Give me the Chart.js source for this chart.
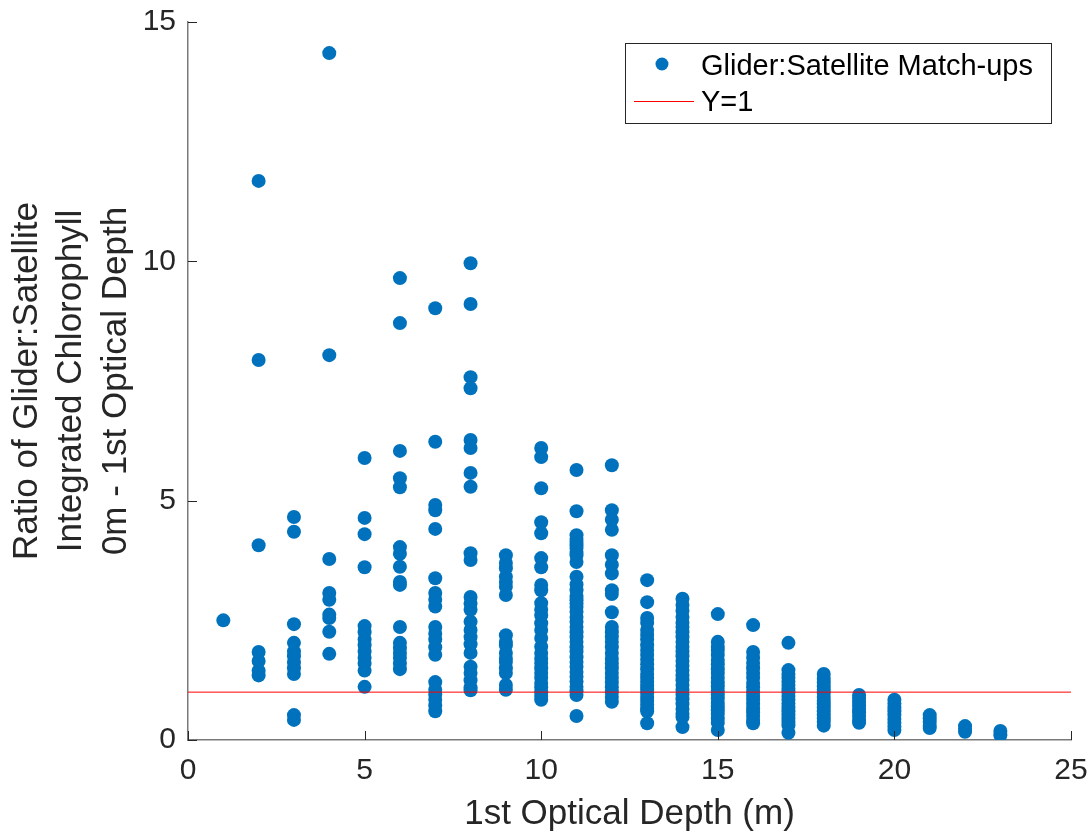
<!DOCTYPE html>
<html>
<head>
<meta charset="utf-8">
<script src="https://cdn.jsdelivr.net/npm/chart.js@4.4.1/dist/chart.umd.min.js"></script>
<style>
  html, body { margin: 0; padding: 0; background: #ffffff; }
  #wrap { width: 1092px; height: 835px; }
</style>
</head>
<body>
<div id="wrap"><canvas id="c" width="1092" height="835"></canvas></div>
<script>
// ---- Data: ratio values read at each 1st optical depth (m) ----
const depths = [1, 2, 3, 4, 5, 6, 7, 8, 9, 10, 11, 12, 13, 14, 15, 16, 17, 18, 19, 20, 21, 22, 23];
const r01 = [2.5];
const r02 = [11.68, 7.94, 4.07, 1.84, 1.65, 1.45, 1.35];
const r03 = [4.66, 4.35, 2.42, 2.03, 1.85, 1.75, 1.62, 1.5, 1.38, 0.52, 0.42];
const r04 = [14.35, 8.04, 3.78, 3.07, 2.93, 2.62, 2.55, 2.26, 1.80];
const r05 = [5.89, 4.64, 4.30, 3.61, 2.38, 2.25, 2.1, 1.98, 1.85, 1.72, 1.6, 1.45, 1.11];
const r06 = [9.65, 8.71, 6.04, 5.47, 5.28, 4.03, 3.89, 3.62, 3.30, 3.24, 2.36, 2.03, 1.92, 1.82, 1.72, 1.6, 1.48];
const r07 = [9.02, 6.23, 4.91, 4.80, 4.41, 3.38, 3.07, 2.93, 2.79, 2.36, 2.22, 2.1, 1.94, 1.78, 1.21, 1.05, 0.95, 0.84, 0.72, 0.6];
const r08 = [9.96, 9.11, 7.58, 7.35, 6.27, 6.10, 5.58, 5.29, 3.90, 3.76, 2.99, 2.85, 2.72, 2.47, 2.3, 2.15, 2.0, 1.82, 1.53, 1.4, 1.25, 1.1, 1.04];
const r09 = [3.86, 3.7, 3.59, 3.41, 3.3, 3.20, 3.03, 2.19, 2.05, 1.98, 1.82, 1.7, 1.63, 1.5, 1.40, 1.15, 1.05];
const r10 = [6.10, 5.91, 5.26, 4.55, 4.32, 3.80, 3.61, 3.24, 3.13, 2.86, 2.72, 2.6, 2.44, 2.30, 2.13, 1.95, 1.82, 1.7, 1.61, 1.5, 1.40, 1.3, 1.19, 1.1, 1.0, 0.92, 0.84];
const r11 = [5.64, 4.78, 4.28, 4.2, 4.14, 4.07, 4.01, 3.93, 3.86, 3.72, 3.41, 3.25, 3.13, 3.0, 2.92, 2.85, 2.78, 2.68, 2.57, 2.47, 2.36, 2.25, 2.15, 2.05, 1.94, 1.85, 1.73, 1.63, 1.53, 1.42, 1.32, 1.22, 1.11, 1.02, 0.94, 0.50];
const r12 = [5.74, 4.80, 4.60, 4.39, 3.86, 3.66, 3.48, 3.13, 3.05, 2.67, 2.36, 2.25, 2.15, 2.05, 1.94, 1.82, 1.7, 1.6, 1.5, 1.4, 1.3, 1.2, 1.1, 1.0, 0.9, 0.8];
const r13 = [3.34, 2.88, 2.55, 2.45, 2.3, 2.2, 2.1, 1.98, 1.88, 1.78, 1.68, 1.58, 1.48, 1.38, 1.3, 1.22, 1.14, 1.06, 0.98, 0.9, 0.82, 0.74, 0.66, 0.6, 0.35];
const r14 = [2.95, 2.82, 2.7, 2.57, 2.45, 2.36, 2.25, 2.15, 2.05, 1.95, 1.85, 1.75, 1.65, 1.55, 1.45, 1.35, 1.25, 1.15, 1.05, 0.95, 0.85, 0.75, 0.65, 0.55, 0.48, 0.27];
const r15 = [2.63, 2.05, 1.95, 1.88, 1.78, 1.67, 1.58, 1.48, 1.4, 1.3, 1.2, 1.12, 1.03, 0.95, 0.87, 0.78, 0.7, 0.62, 0.55, 0.45, 0.36, 0.21];
const r16 = [2.40, 1.84, 1.72, 1.61, 1.5, 1.40, 1.3, 1.19, 1.1, 1.0, 0.92, 0.84, 0.75, 0.66, 0.58, 0.5, 0.42, 0.35];
const r17 = [2.03, 1.46, 1.38, 1.3, 1.22, 1.15, 1.07, 1.0, 0.92, 0.84, 0.76, 0.68, 0.6, 0.52, 0.45, 0.38, 0.31, 0.15];
const r18 = [1.38, 1.28, 1.2, 1.12, 1.05, 0.98, 0.9, 0.82, 0.75, 0.68, 0.6, 0.52, 0.45, 0.38, 0.3];
const r19 = [0.94, 0.88, 0.8, 0.72, 0.65, 0.58, 0.5, 0.42, 0.36];
const r20 = [0.84, 0.76, 0.68, 0.6, 0.52, 0.44, 0.36, 0.28, 0.21];
const r21 = [0.52, 0.45, 0.38, 0.3, 0.25];
const r22 = [0.29, 0.23, 0.17];
const r23 = [0.19, 0.10];
const ratiosByDepth = [r01, r02, r03, r04, r05, r06, r07, r08, r09, r10, r11, r12,
                       r13, r14, r15, r16, r17, r18, r19, r20, r21, r22, r23];

// Reference line Y = 1
const refLineX = [0, 25];
const refLineY = [1, 1];

// Axis ticks
const xTicks = [0, 5, 10, 15, 20, 25];
const yTicks = [0, 5, 10, 15];

const seriesLabel = 'Glider:Satellite Match-ups';
const refLabel = 'Y=1';
const xTitle = '1st Optical Depth (m)';
const yTitle = ['Ratio of Glider:Satellite', 'Integrated Chlorophyll', '0m - 1st Optical Depth'];

// ---- Build datasets ----
const matchPoints = [];
depths.forEach((d, i) => ratiosByDepth[i].forEach(v => matchPoints.push({ x: d, y: v })));
const refPoints = refLineX.map((x, i) => ({ x: x, y: refLineY[i] }));

const FONT = "'Liberation Sans', Arial, Helvetica, sans-serif";
const TXT = '#262626';
const BLUE = '#0072BD';
const RED = '#FF0000';

// inward tick marks (MATLAB style)
const inwardTicks = {
  id: 'inwardTicks',
  afterDatasetsDraw(chart) {
    const { ctx, chartArea, scales } = chart;
    ctx.save();
    ctx.strokeStyle = TXT;
    ctx.lineWidth = 1;
    ctx.beginPath();
    xTicks.forEach(v => {
      const px = Math.round(scales.x.getPixelForValue(v)) + 0.5;
      ctx.moveTo(px, chartArea.bottom);
      ctx.lineTo(px, chartArea.bottom - 9);
    });
    yTicks.forEach(v => {
      const py = Math.round(scales.y.getPixelForValue(v)) + 0.5;
      ctx.moveTo(chartArea.left, py);
      ctx.lineTo(chartArea.left + 9, py);
    });
    ctx.stroke();
    ctx.restore();
  }
};

// legend box inside the plot, top right
const boxLegend = {
  id: 'boxLegend',
  afterDraw(chart) {
    const { ctx, chartArea } = chart;
    const ds = chart.data.datasets;
    ctx.save();
    ctx.font = '29px ' + FONT;
    const w1 = ctx.measureText(ds[0].label).width;
    const w2 = ctx.measureText(ds[1].label).width;
    const width = 76 + Math.max(w1, w2) + 18;
    const right = chartArea.right - 20;
    const left = right - width;
    const top = chartArea.top + 21;
    const height = 80;
    ctx.fillStyle = '#ffffff';
    ctx.fillRect(left, top, width, height);
    ctx.strokeStyle = TXT;
    ctx.lineWidth = 1;
    ctx.strokeRect(Math.round(left) + 0.5, top + 0.5, Math.round(width), height);
    // entry 1: marker
    ctx.fillStyle = BLUE;
    ctx.beginPath();
    ctx.arc(left + 37, top + 21, 6.5, 0, Math.PI * 2);
    ctx.fill();
    // entry 2: red line
    ctx.strokeStyle = RED;
    ctx.beginPath();
    ctx.moveTo(left + 9, Math.round(top + 58) + 0.5);
    ctx.lineTo(left + 69, Math.round(top + 58) + 0.5);
    ctx.stroke();
    // texts
    ctx.fillStyle = '#000000';
    ctx.textBaseline = 'middle';
    ctx.textAlign = 'left';
    ctx.fillText(ds[0].label, left + 76, top + 24);
    ctx.fillText(ds[1].label, left + 76, top + 60);
    ctx.restore();
  }
};

new Chart(document.getElementById('c'), {
  type: 'scatter',
  data: {
    datasets: [
      {
        label: seriesLabel,
        data: matchPoints,
        backgroundColor: BLUE,
        borderColor: BLUE,
        borderWidth: 0,
        pointRadius: 7,
        pointHoverRadius: 7,
        showLine: false,
        order: 1
      },
      {
        label: refLabel,
        type: 'line',
        data: refPoints,
        borderColor: RED,
        backgroundColor: RED,
        borderWidth: 1,
        pointRadius: 0,
        fill: false,
        showLine: true,
        order: 0
      }
    ]
  },
  options: {
    responsive: false,
    animation: false,
    devicePixelRatio: 1,
    layout: { padding: { top: 22, right: 21, left: 0, bottom: 0 } },
    plugins: { legend: { display: false }, tooltip: { enabled: false } },
    scales: {
      x: {
        type: 'linear',
        min: 0, max: 25,
        afterBuildTicks: s => { s.ticks = xTicks.map(v => ({ value: v })); },
        afterFit: s => { s.height = 95; s.paddingLeft = 0; s.paddingRight = 0; },
        ticks: { color: TXT, font: { family: FONT, size: 30 }, padding: 13, maxRotation: 0 },
        grid: { drawOnChartArea: false, drawTicks: false },
        border: { display: true, color: '#7a7a7a', width: 1.5 },
        title: { display: true, text: xTitle, color: TXT, font: { family: FONT, size: 35 }, padding: { top: 0, bottom: 0 } }
      },
      y: {
        type: 'linear',
        min: 0, max: 15,
        afterBuildTicks: s => { s.ticks = yTicks.map(v => ({ value: v })); },
        afterFit: s => { s.width = 188; s.paddingTop = 0; s.paddingBottom = 0; },
        ticks: { color: TXT, font: { family: FONT, size: 30 }, padding: 12 },
        grid: { drawOnChartArea: false, drawTicks: false },
        border: { display: true, color: '#7a7a7a', width: 1.5 },
        title: { display: true, text: yTitle, color: TXT, font: { family: FONT, size: 35, lineHeight: 1.27 }, padding: { top: 5, bottom: 0 } }
      }
    }
  },
  plugins: [inwardTicks, boxLegend]
});
</script>
</body>
</html>
